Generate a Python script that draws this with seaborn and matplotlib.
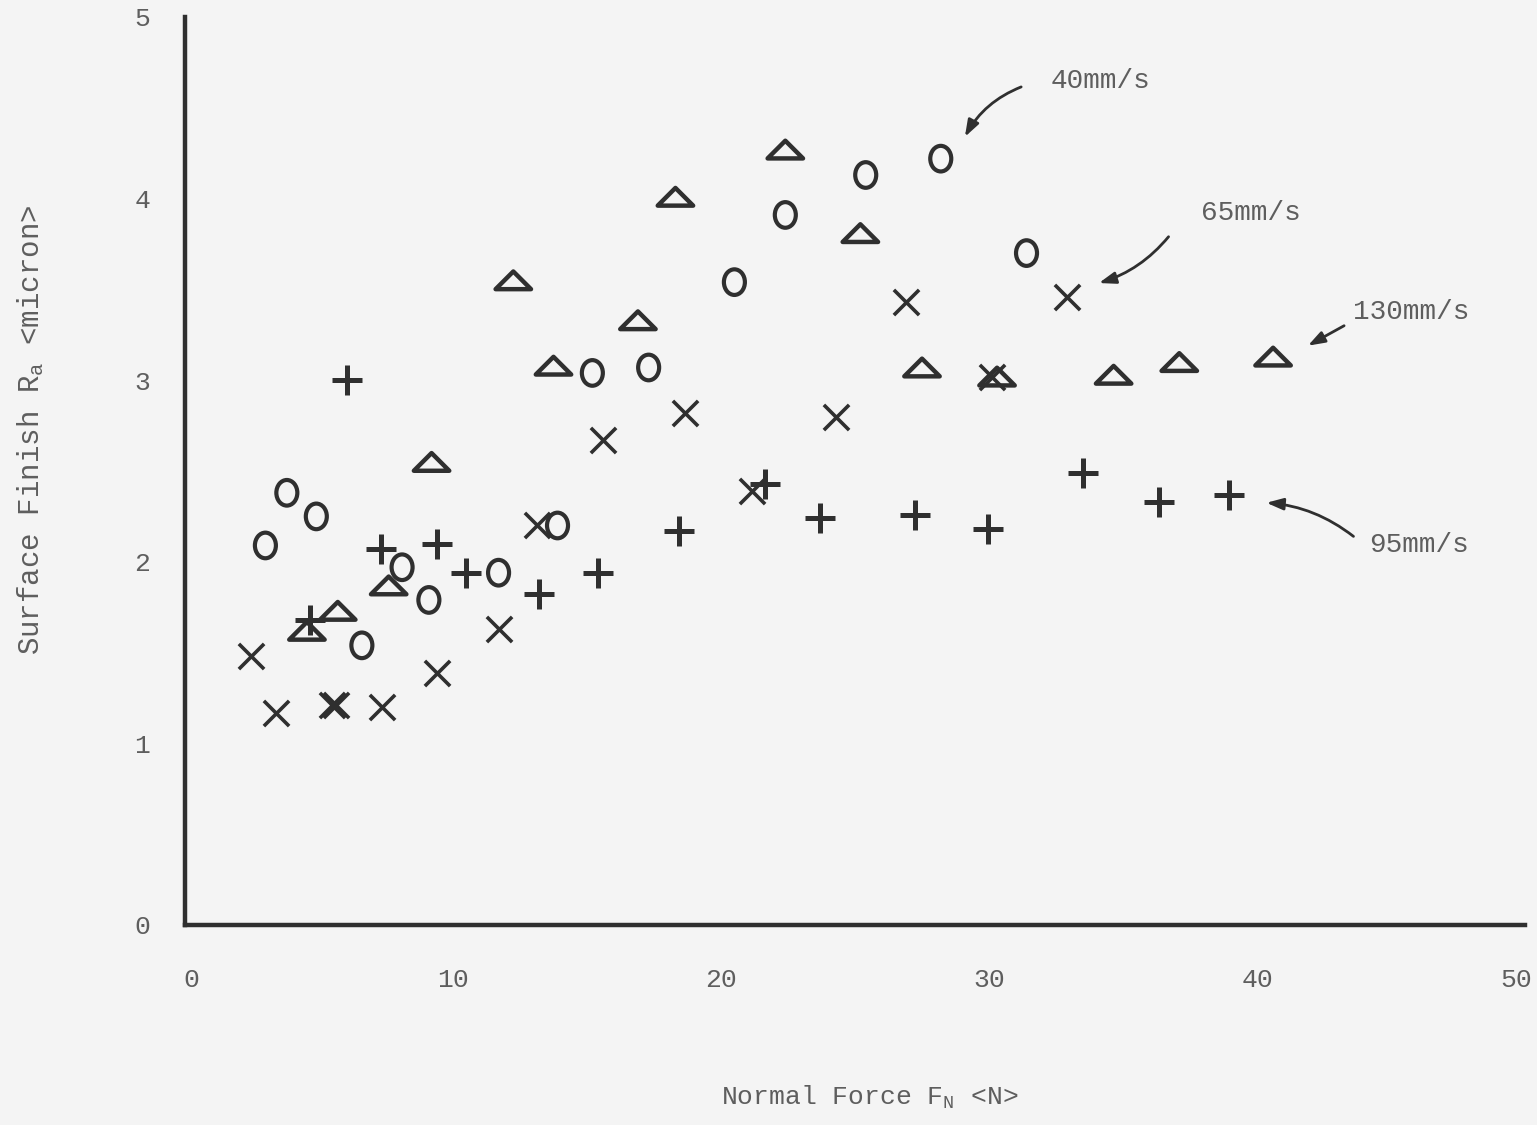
import numpy as np
import pandas as pd
import matplotlib
matplotlib.use("Agg")
import matplotlib.pyplot as plt
from matplotlib.path import Path
from matplotlib.transforms import Affine2D, ScaledTranslation
import seaborn as sns

# ---------------- data ----------------
speed40_x = [3.0, 3.8, 4.9, 6.6, 8.1, 9.1, 11.7, 13.9, 15.2, 17.3, 20.5, 22.4, 25.4, 28.2, 31.4]
speed40_y = [2.09, 2.38, 2.25, 1.54, 1.97, 1.79, 1.94, 2.20, 3.04, 3.07, 3.54, 3.91, 4.13, 4.22, 3.70]

speed65_x = [2.45, 3.4, 5.5, 5.65, 7.35, 9.4, 11.7, 13.15, 15.6, 18.65, 21.15, 24.3, 26.9, 30.1, 32.9]
speed65_y = [1.48, 1.17, 1.21, 1.21, 1.20, 1.39, 1.63, 2.20, 2.67, 2.82, 2.39, 2.80, 3.43, 3.02, 3.46]

speed95_x = [4.65, 6.05, 7.3, 9.4, 10.5, 13.2, 15.4, 18.45, 21.65, 23.7, 27.25, 29.95, 33.5, 36.35, 38.95]
speed95_y = [1.68, 3.00, 2.07, 2.10, 1.94, 1.82, 1.94, 2.17, 2.43, 2.24, 2.26, 2.18, 2.49, 2.33, 2.37]

speed130_x = [4.55, 5.7, 7.6, 9.2, 12.25, 13.75, 16.9, 18.3, 22.4, 25.2, 27.5, 30.3, 34.65, 37.1, 40.6]
speed130_y = [1.62, 1.73, 1.87, 2.55, 3.55, 3.08, 3.33, 4.01, 4.27, 3.81, 3.07, 3.02, 3.03, 3.10, 3.13]

x_ticks = [0, 10, 20, 30, 40, 50]
y_ticks = [0, 1, 2, 3, 4, 5]

# series labels with their call-out arrows
labels = ["40mm/s", "65mm/s", "130mm/s", "95mm/s"]
label_text_x = [32.3, 37.9, 43.6, 44.2]
label_text_y = [4.65, 3.92, 3.375, 2.09]
arrow_tail = [(31.2, 4.615), (36.7, 3.79), (43.25, 3.30), (43.6, 2.14)]
arrow_head = [(29.1, 4.34), (34.1, 3.535), (41.9, 3.19), (40.35, 2.325)]
arrow_rad = [0.18, -0.15, 0.0, 0.15]

# ---------------- style ----------------
BG = "#f4f4f4"
INK = "#2f2f2f"
TXT = "#5e5e5e"
sns.set_style("white", {"axes.facecolor": BG, "figure.facecolor": BG})
plt.rcParams["font.family"] = ["Liberation Mono", "DejaVu Sans Mono"]
plt.rcParams["mathtext.fontset"] = "custom"
plt.rcParams["mathtext.rm"] = "Liberation Mono"
plt.rcParams["mathtext.it"] = "Liberation Mono"

fig = plt.figure(figsize=(15.37, 11.25), dpi=100, facecolor=BG)
ax = fig.add_axes([185 / 1537, 1 - 925 / 1125, 1340 / 1537, 908 / 1125])
ax.set_facecolor(BG)

# markers
ellipse = Path.unit_circle().transformed(Affine2D().scale(0.82, 1.0))
triangle = Path([(-1, -0.5), (1, -0.5), (0, 0.5), (-1, -0.5)],
                [Path.MOVETO, Path.LINETO, Path.LINETO, Path.CLOSEPOLY])

df40 = pd.DataFrame({"F": speed40_x, "Ra": speed40_y})
df65 = pd.DataFrame({"F": speed65_x, "Ra": speed65_y})
df95 = pd.DataFrame({"F": speed95_x, "Ra": speed95_y})
df130 = pd.DataFrame({"F": speed130_x, "Ra": speed130_y})

sns.scatterplot(data=df40, x="F", y="Ra", ax=ax, marker=ellipse, s=340,
                facecolors="none", edgecolors=INK, linewidths=3.0, zorder=3)
sns.scatterplot(data=df130, x="F", y="Ra", ax=ax, marker=triangle, s=650,
                facecolors="none", edgecolors=INK, linewidths=3.2, zorder=3)
sns.scatterplot(data=df65, x="F", y="Ra", ax=ax, marker="x", s=330,
                color=INK, linewidths=2.6, zorder=3)
sns.scatterplot(data=df95, x="F", y="Ra", ax=ax, marker="+", s=440,
                color=INK, linewidths=3.6, zorder=3)

# axes
ax.set_xlim(0, 50)
ax.set_ylim(0, 5)
ax.set_xticks(x_ticks)
ax.set_yticks(y_ticks)
for s in ["top", "right"]:
    ax.spines[s].set_visible(False)
for s in ["left", "bottom"]:
    ax.spines[s].set_color(INK)
    ax.spines[s].set_linewidth(3.2)
ax.tick_params(axis="y", direction="out", length=14, width=2.5, color=INK,
               pad=11, labelsize=19, labelcolor=TXT)
ax.tick_params(axis="x", direction="out", length=18, width=2.5, color=INK,
               pad=13, labelsize=19, labelcolor=TXT)

# nudge the outermost x tick labels slightly inwards (as in the reference)
xt = ax.xaxis.get_major_ticks()
xt[0].label1.set_transform(xt[0].label1.get_transform()
                           + ScaledTranslation(6 / 100, 0, fig.dpi_scale_trans))
xt[-1].label1.set_transform(xt[-1].label1.get_transform()
                            + ScaledTranslation(-9 / 100, 0, fig.dpi_scale_trans))

ax.set_xlabel(r"Normal Force F$_{\mathrm{N}}$ <N>", fontsize=19, color=TXT)
ax.set_ylabel(r"Surface Finish R$_{\mathrm{a}}$ <micron>", fontsize=21, color=TXT)
ax.xaxis.set_label_coords(0.511, -0.175)
ax.yaxis.set_label_coords(-0.104, 0.545)

# annotations
for lab, tx, ty, tail, head, rad in zip(labels, label_text_x, label_text_y,
                                         arrow_tail, arrow_head, arrow_rad):
    ax.text(tx, ty, lab, fontsize=20, color=TXT, ha="left", va="center")
    ax.annotate("", xy=head, xytext=tail,
                arrowprops=dict(arrowstyle="-|>,head_length=1.0,head_width=0.35",
                                color=INK, lw=2.0,
                                connectionstyle=f"arc3,rad={rad}",
                                shrinkA=0, shrinkB=0))

fig.savefig("out.png", dpi=100, facecolor=BG)
